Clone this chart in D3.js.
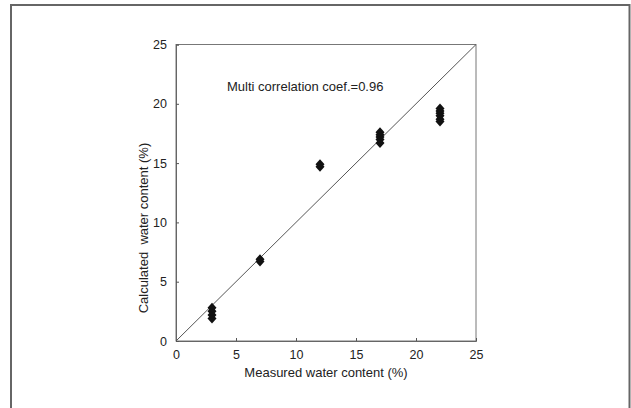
<!DOCTYPE html>
<html>
<head>
<meta charset="utf-8">
<script src="https://cdn.jsdelivr.net/npm/d3@7"></script>
<style>
  body { margin: 0; background: #fff; }
  text { font-family: "Liberation Sans", Arial, sans-serif; fill: #222; }
</style>
</head>
<body>
<svg id="chart" width="631" height="408"></svg>
<script>
// Data
const measured = [3, 3, 3, 3, 7, 7, 12, 12, 17, 17, 17, 17, 17, 22, 22, 22, 22, 22, 22];
const calculated = [1.9, 2.2, 2.5, 2.8, 6.7, 6.9, 14.7, 14.9, 16.7, 17.0, 17.2, 17.4, 17.6, 18.5, 18.7, 19.0, 19.2, 19.4, 19.6];
const ticks = [0, 5, 10, 15, 20, 25];
const note = 'Multi correlation coef.=0.96';

const svg = d3.select('#chart');
const margin = { top: 44.5, left: 176, width: 300, height: 296.5 };

// outer frame
svg.append('rect')
    .attr('x', 11).attr('y', 5)
    .attr('width', 618.5).attr('height', 420)
    .attr('fill', 'none')
    .attr('stroke', '#666')
    .attr('stroke-width', 2);

const x = d3.scaleLinear().domain([0, 25]).range([0, margin.width]);
const y = d3.scaleLinear().domain([0, 25]).range([margin.height, 0]);

const g = svg.append('g')
    .attr('transform', `translate(${margin.left},${margin.top})`);

// plot box
g.append('rect')
    .attr('width', margin.width)
    .attr('height', margin.height)
    .attr('fill', 'none')
    .attr('stroke', '#777')
    .attr('stroke-width', 1);

// axes, ticks pointing inside
const xAxis = g.append('g')
    .attr('transform', `translate(0,${margin.height})`)
    .call(d3.axisBottom(x).tickValues(ticks).tickSize(-3).tickPadding(9));
const yAxis = g.append('g')
    .call(d3.axisLeft(y).tickValues(ticks).tickSize(-3).tickPadding(9));

[xAxis, yAxis].forEach(a => {
    a.select('.domain').attr('stroke', '#666');
    a.selectAll('.tick line').attr('stroke', '#555');
    a.selectAll('.tick text')
        .style('font-size', '12.5px')
        .style('font-family', '"Liberation Sans", Arial, sans-serif')
        .attr('fill', '#333');
});

// 1:1 line
g.append('line')
    .attr('x1', x(0)).attr('y1', y(0))
    .attr('x2', x(25)).attr('y2', y(25))
    .attr('stroke', '#555')
    .attr('stroke-width', 1);

// points
const pts = measured.map((m, i) => ({ m, c: calculated[i] }));
g.selectAll('.pt')
    .data(pts)
    .enter()
    .append('path')
    .attr('class', 'pt')
    .attr('d', 'M0,-5L4.5,0L0,5L-4.5,0Z')
    .attr('transform', d => `translate(${x(d.m)},${y(d.c)})`)
    .attr('fill', '#111');

// note
g.append('text')
    .attr('x', 51)
    .attr('y', 46)
    .style('font-size', '13px')
    .text(note);

// axis labels
svg.append('text')
    .attr('x', margin.left + margin.width / 2)
    .attr('y', 377)
    .attr('text-anchor', 'middle')
    .style('font-size', '13px')
    .text('Measured water content (%)');

svg.append('text')
    .attr('transform', 'rotate(-90)')
    .attr('x', -228)
    .attr('y', 148)
    .attr('text-anchor', 'middle')
    .style('font-size', '13px')
    .text('Calculated\u00a0 water content (%)');
</script>
</body>
</html>
